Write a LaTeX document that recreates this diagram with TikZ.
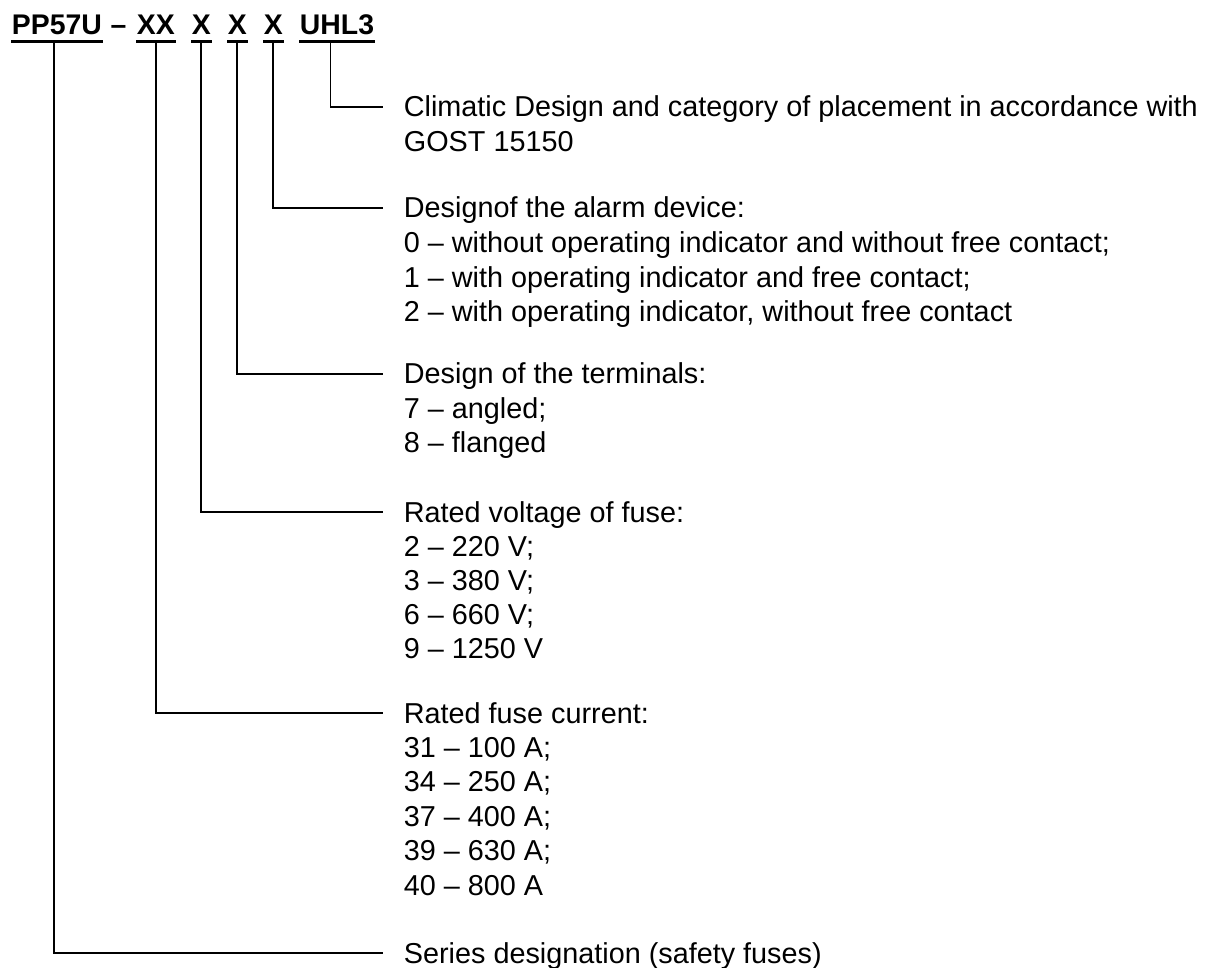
\documentclass[tikz,border=0pt]{standalone}
\usepackage{fontspec}
\setmainfont{Liberation Sans}
\usetikzlibrary{positioning}

\begin{document}
\begin{tikzpicture}[
    x=0.5pt, y=-0.5pt,
    line width=0.9pt,
    code/.style={
        font=\fontsize{14.2}{17}\selectfont\bfseries,
        inner sep=0pt,
        text depth=2.75pt
    },
    uline/.style={line width=1.4pt},
    title/.style={
        font=\fontsize{14.4}{17.2}\selectfont,
        inner xsep=10pt,
        inner ysep=0pt,
        text height=10pt,
        text depth=0pt,
        anchor=base west
    },
    items/.style={
        font=\fontsize{14.4}{17.2}\selectfont,
        inner xsep=10pt,
        inner ysep=0pt,
        anchor=base west
    }
]
\useasboundingbox (0,0) rectangle (1216,968);

% type designation
\node[code, anchor=base west] (ser) at (11,35) {PP57U};
\node[code, anchor=base] (dash) at (118.5,35) {--};
\node[code, anchor=base west] (cur) at (136,35) {XX};
\node[code, anchor=base west] (volt) at (191,35) {X};
\node[code, anchor=base west] (term) at (227,35) {X};
\node[code, anchor=base west] (alarm) at (263,35) {X};
\node[code, anchor=base west] (clim) at (299,35) {UHL3};

\foreach \part in {ser,cur,volt,term,alarm,clim}
    \draw[uline] (\part.south west) -- (\part.south east);

% explanations
\node[title] (climT) at (383,117) {Climatic Design and category of placement in accordance with};
\node[items] (clim-1) at ([yshift=-17.2pt]climT.base west) {GOST 15150};

\node[title] (alarmT) at (383,218) {Designof the alarm device:};
\foreach \txt [count=\i] in {
    {0 -- without operating indicator and without free contact;},
    {1 -- with operating indicator and free contact;},
    {2 -- with operating indicator, without free contact}}
    \node[items] (alarm-\i) at ([yshift=-\i*17.3pt]alarmT.base west) {\txt};

\node[title] (termT) at (383,384) {Design of the terminals:};
\foreach \txt [count=\i] in {{7 -- angled;}, {8 -- flanged}}
    \node[items] (term-\i) at ([yshift=-\i*17.2pt]termT.base west) {\txt};

\node[title] (voltT) at (383,522) {Rated voltage of fuse:};
\foreach \txt [count=\i] in {{2 -- 220 V;}, {3 -- 380 V;}, {6 -- 660 V;}, {9 -- 1250 V}}
    \node[items] (volt-\i) at ([yshift=-\i*17.1pt]voltT.base west) {\txt};

\node[title] (curT) at (383,723) {Rated fuse current:};
\foreach \txt [count=\i] in {{31 -- 100 A;}, {34 -- 250 A;}, {37 -- 400 A;}, {39 -- 630 A;}, {40 -- 800 A}}
    \node[items] (cur-\i) at ([yshift=-\i*17.2pt]curT.base west) {\txt};

\node[title] (serT) at (383,963) {Series designation (safety fuses)};

% leader lines
\draw ([xshift=-3.25pt]clim.south) |- (climT.west);
\draw (alarm.south) |- (alarmT.west);
\draw (term.south) |- (termT.west);
\draw (volt.south) |- (voltT.west);
\draw (cur.south) |- (curT.west);
\draw ([xshift=-1.5pt]ser.south) |- (serT.west);

\end{tikzpicture}
\end{document}
